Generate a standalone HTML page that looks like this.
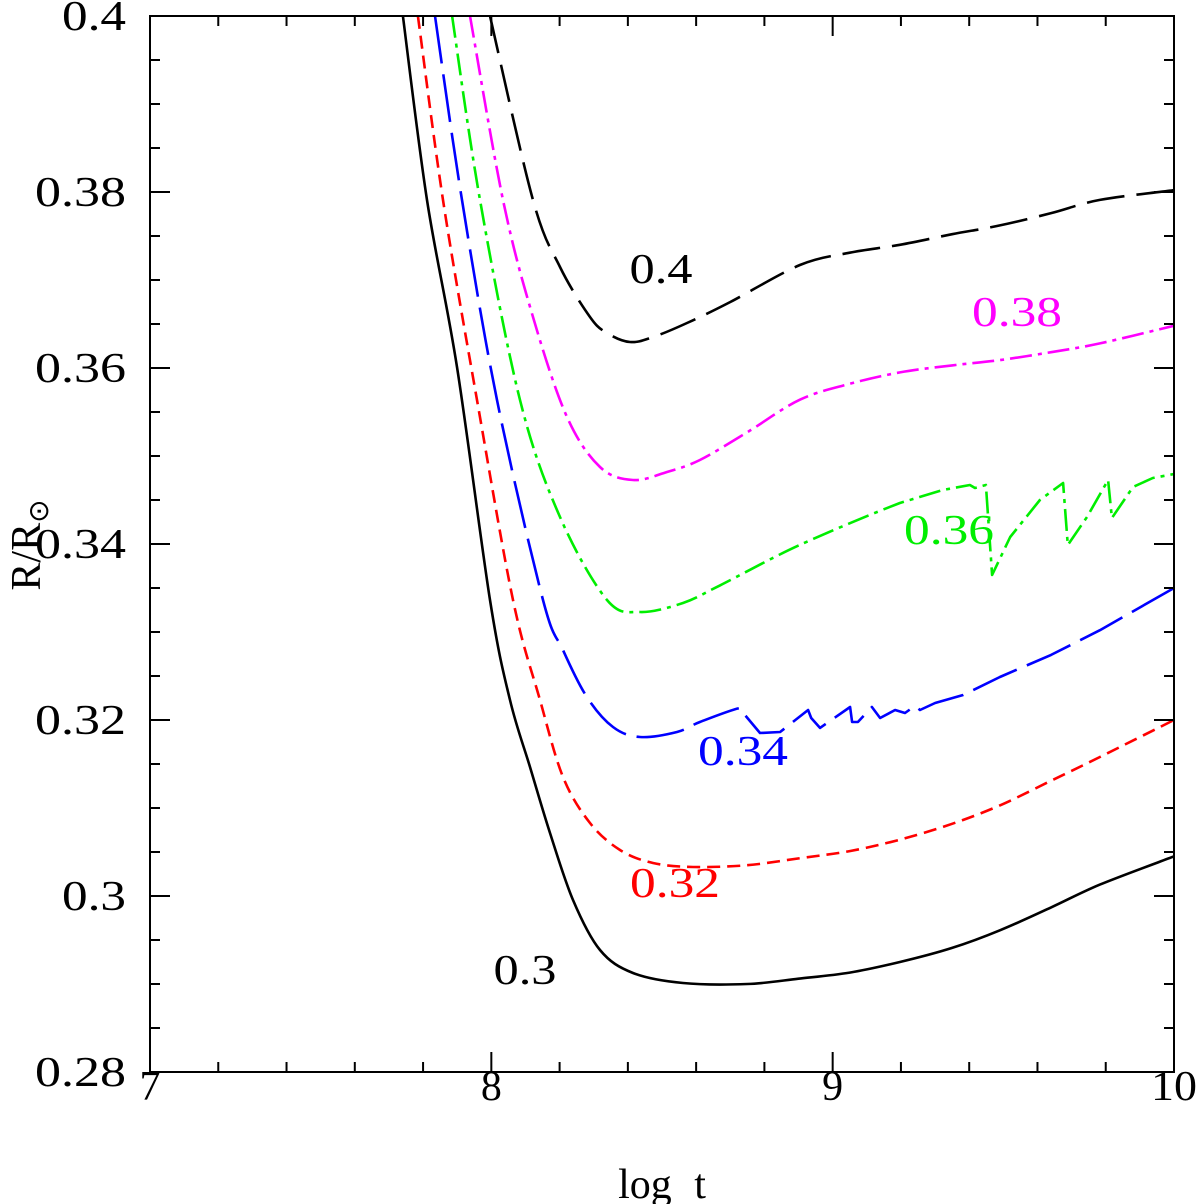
<!DOCTYPE html>
<html><head><meta charset="utf-8"><style>
body{margin:0;background:#fff}
svg{display:block}
text{font-family:"Liberation Serif",serif}
</style></head><body>
<svg id="chart" width="1200" height="1204" viewBox="0 0 1200 1204"></svg>
<script>
const xTicks=[7,8,9,10];
const xTickLabels=["7","8","9","10"];
const yTicks=[0.28,0.3,0.32,0.34,0.36,0.38,0.4];
const yTickLabels=["0.28","0.3","0.32","0.34","0.36","0.38","0.4"];
const masses=["0.3","0.32","0.34","0.36","0.38","0.4"];
const t03=[7.741,7.8115,7.8994,7.9961,8.0547,8.1133,8.1719,8.2393,8.3184,8.415,8.5615,8.75,8.9,9.05,9.197,9.35,9.49,9.64,9.783,10];
const r03=[0.4,0.37909,0.36011,0.33364,0.32227,0.31466,0.30716,0.29955,0.29386,0.29125,0.29011,0.2900,0.2906,0.2913,0.2925,0.2941,0.2961,0.2987,0.3013,0.3045];
const t032=[7.785,7.8584,7.958,8.0635,8.1426,8.21,8.289,8.377,8.4736,8.5908,8.75,8.904,9.05,9.197,9.35,9.49,9.64,9.783,10];
const r032=[0.4,0.37909,0.35636,0.33364,0.32227,0.31352,0.3083,0.30523,0.30375,0.3033,0.3035,0.3043,0.3051,0.3064,0.3082,0.3103,0.3131,0.3158,0.32];
const t034=[7.835,7.914,8.0166,8.1514,8.21,8.28,8.3565,8.4356,8.544,8.611,8.729,8.743,8.787,8.846,8.928,8.937,8.963,9.051,9.057,9.074,9.115,9.139,9.183,9.212,9.241,9.256,9.3,9.382,9.49,9.64,9.783,10];
const r034=[0.4,0.37909,0.35636,0.33364,0.32795,0.32261,0.3192,0.31807,0.31864,0.31977,0.32136,0.32057,0.31852,0.31864,0.32114,0.32023,0.3191,0.32148,0.31977,0.31977,0.32148,0.32023,0.32114,0.3208,0.3216,0.32114,0.32193,0.32284,0.32489,0.3274,0.3302,0.335];
const t036=[7.885,7.9668,8.084,8.2012,8.3389,8.4356,8.5615,8.67,8.904,9.197,9.323,9.402,9.417,9.449,9.467,9.52,9.607,9.675,9.689,9.745,9.807,9.818,9.88,9.938,10];
const r036=[0.4,0.37909,0.35636,0.34307,0.33364,0.33227,0.3333,0.3353,0.3399,0.34466,0.34614,0.3467,0.34636,0.3467,0.33648,0.3408,0.345,0.34693,0.33989,0.34307,0.34727,0.34295,0.34648,0.3475,0.34795];
const t038=[7.9375,8.0342,8.122,8.2217,8.3184,8.415,8.5146,8.611,8.75,8.904,9.05,9.197,9.35,9.49,9.64,9.783,10];
const r038=[0.4,0.37909,0.3658,0.35443,0.34875,0.34727,0.34818,0.34955,0.3527,0.3564,0.3582,0.3595,0.3603,0.3609,0.3618,0.3628,0.3648];
const t040=[7.996,8.122,8.2012,8.289,8.3389,8.4063,8.4736,8.5732,8.7,8.904,9.05,9.197,9.35,9.49,9.64,9.783,10];
const r040=[0.4,0.37909,0.37148,0.3658,0.36398,0.36295,0.36352,0.36511,0.3675,0.3717,0.3731,0.374,0.3752,0.3762,0.3776,0.3791,0.3802];

const NS="http://www.w3.org/2000/svg";
const svg=document.getElementById('chart');
const X0=150,X1=1174,Y0=1072,Y1=16;
const xs=v=>X0+(v-7)/3*(X1-X0);
const ys=v=>Y0-(v-0.28)/0.12*(Y0-Y1);
function mk(tag,attrs){const e=document.createElementNS(NS,tag);for(const k in attrs)e.setAttribute(k,attrs[k]);svg.appendChild(e);return e;}

const clip=document.createElementNS(NS,'clipPath');clip.setAttribute('id','pa');
const cr=document.createElementNS(NS,'rect');cr.setAttribute('x',X0);cr.setAttribute('y',Y1);cr.setAttribute('width',X1-X0);cr.setAttribute('height',Y0-Y1);
clip.appendChild(cr);svg.appendChild(clip);

function pathD(T,R,linFrom){
 const P=T.map((t,i)=>[xs(t),ys(R[i])]);
 let d='M'+P[0][0].toFixed(1)+','+P[0][1].toFixed(1);
 for(let i=0;i<P.length-1;i++){
  const p1=P[i],p2=P[i+1];
  if(i>=linFrom){d+=' L'+p2[0].toFixed(1)+','+p2[1].toFixed(1);continue;}
  const p0=P[i-1]||p1,p3=P[i+2]||p2;
  const c1=[p1[0]+(p2[0]-p0[0])/6,p1[1]+(p2[1]-p0[1])/6];
  const c2=[p2[0]-(p3[0]-p1[0])/6,p2[1]-(p3[1]-p1[1])/6];
  d+=' C'+c1.map(v=>v.toFixed(1)).join(',')+' '+c2.map(v=>v.toFixed(1)).join(',')+' '+p2[0].toFixed(1)+','+p2[1].toFixed(1);
 }
 return d;
}
const series=[
 [t03,r03,'#000','none','curve-0.3',999],
 [t032,r032,'#f00','13 7','curve-0.32',999],
 [t034,r034,'#00f','48 11','curve-0.34',10],
 [t036,r036,'#0e0','22 6 4 6','curve-0.36',9],
 [t038,r038,'#f0f','22 6 4 6','curve-0.38',999],
 [t040,r040,'#000','38 12','curve-0.4',999]
];
series.forEach(s=>{
 const p=mk('path',{d:pathD(s[0],s[1],s[5]),fill:'none',stroke:s[2],'stroke-width':2.6,'stroke-dasharray':s[3],'clip-path':'url(#pa)','stroke-linejoin':'round'});
 
 
});

const fr=mk('rect',{x:X0,y:Y1,width:X1-X0,height:Y0-Y1,fill:'none',stroke:'#000','stroke-width':2});



for(let i=0;i<=15;i++){
 const v=7+i*0.2;const x=xs(v);const L=(i%5==0)?20:10;
 mk('line',{x1:x,y1:Y0,x2:x,y2:Y0-L,stroke:'#000','stroke-width':2});
 mk('line',{x1:x,y1:Y1,x2:x,y2:Y1+L,stroke:'#000','stroke-width':2});
}
for(let i=0;i<=24;i++){
 const v=0.28+i*0.005;const y=ys(v);const L=(i%4==0)?20:10;
 mk('line',{x1:X0,y1:y,x2:X0+L,y2:y,stroke:'#000','stroke-width':2});
 mk('line',{x1:X1,y1:y,x2:X1-L,y2:y,stroke:'#000','stroke-width':2});
}
xTicks.forEach((v,i)=>{
 const lab=xTickLabels[i];
 const t=mk('text',{x:xs(v),y:1100,'font-size':42,'text-anchor':'middle'});t.textContent=lab;
 if(lab.length>1){t.setAttribute('textLength',46);t.setAttribute('lengthAdjust','spacingAndGlyphs');}
 
 
});
yTicks.forEach((v,i)=>{
 const lab=yTickLabels[i];
 const t=mk('text',{x:126,y:ys(v)+14,'font-size':42,'text-anchor':'end',textLength:lab.length==4?91:64,lengthAdjust:'spacingAndGlyphs'});t.textContent=lab;
 
 
});
const xl=mk('text',{x:662,y:1198,'font-size':42,'text-anchor':'middle','word-spacing':12});xl.textContent='log t';


const yl=mk('text',{x:0,y:0,'font-size':42,'text-anchor':'middle',transform:'translate(40,545) rotate(-90)'});
yl.innerHTML='R/R<tspan font-size="28" dy="8">⊙</tspan>';



const labelPos=[[525,984,'#000'],[675,897,'#f00'],[743,765,'#00f'],[949,544,'#0e0'],[1017,326,'#f0f'],[661,283,'#000']];
masses.forEach((m,i)=>{
 const p=labelPos[i];
 const t=mk('text',{x:p[0],y:p[1],'font-size':42,'text-anchor':'middle',fill:p[2],textLength:m.length==4?90:63,lengthAdjust:'spacingAndGlyphs'});t.textContent=m;
 
 
});
</script>
</body></html>
